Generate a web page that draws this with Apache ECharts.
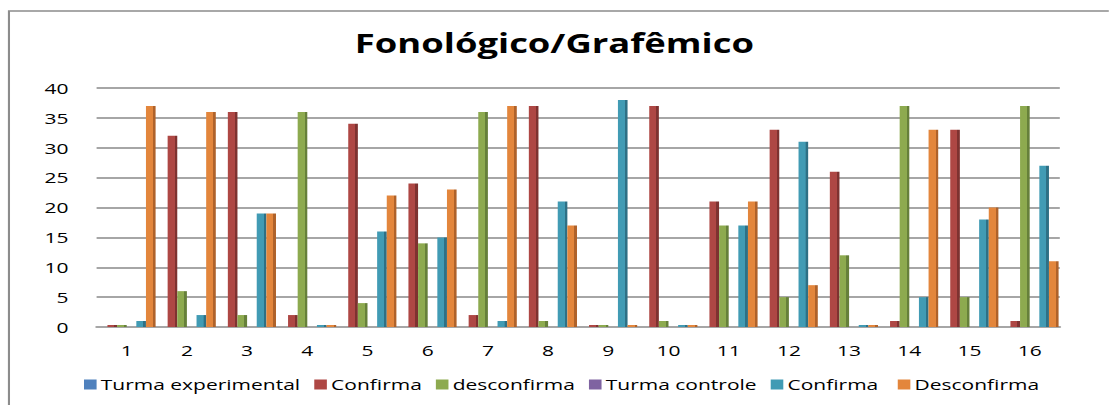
<!DOCTYPE html>
<html>
<head>
<meta charset="utf-8">
<script src="https://cdn.jsdelivr.net/npm/echarts@6/dist/echarts.min.js"></script>
<style>
  html, body { margin: 0; padding: 0; background: #fff; overflow: hidden; }
  /* the original picture is a horizontally stretched Excel chart,
     so draw it narrower and stretch it the same way */
  #chart { width: 792px; height: 405px; transform: scaleX(1.4); transform-origin: 0 0; }
</style>
</head>
<body>
<div id="chart"></div>
<script>
const categories = ['1', '2', '3', '4', '5', '6', '7', '8', '9', '10', '11', '12', '13', '14', '15', '16'];
const seriesNames = ['Turma experimental', 'Confirma', 'desconfirma', 'Turma controle', 'Confirma ', 'Desconfirma'];

const expGroup = [0, 0, 0, 0, 0, 0, 0, 0, 0, 0, 0, 0, 0, 0, 0, 0];
const expConfirma = [0, 32, 36, 2, 34, 24, 2, 37, 0, 37, 21, 33, 26, 1, 33, 1];
const expDesconfirma = [0, 6, 2, 36, 4, 14, 36, 1, 0, 1, 17, 5, 12, 37, 5, 37];
const ctrlGroup = [0, 0, 0, 0, 0, 0, 0, 0, 0, 0, 0, 0, 0, 0, 0, 0];
const ctrlConfirma = [1, 2, 19, 0, 16, 15, 1, 21, 38, 0, 17, 31, 0, 5, 18, 27];
const ctrlDesconfirma = [37, 36, 19, 0, 22, 23, 37, 17, 0, 0, 21, 7, 0, 33, 20, 11];

const yTicks = { min: 0, max: 40, interval: 5 };

// face colour + darker side colour, like the Excel 3D columns
const palette = [
  ['#4F81BD', '#3A6190'],
  ['#AE4744', '#7E3230'],
  ['#8DAA4F', '#66803A'],
  ['#7F63A1', '#5C4776'],
  ['#419BB4', '#2E7085'],
  ['#E3863C', '#AF622A'],
];

function face(c) {
  return new echarts.graphic.LinearGradient(0, 0, 1, 0, [
    { offset: 0, color: c[0] },
    { offset: 0.72, color: c[0] },
    { offset: 0.73, color: c[1] },
    { offset: 1, color: c[1] },
  ]);
}

const dataSets = [expGroup, expConfirma, expDesconfirma, ctrlGroup, ctrlConfirma, ctrlDesconfirma];

const series = dataSets.map((d, i) => ({
  name: seriesNames[i],
  type: 'bar',
  data: d,
  barGap: '0%',
  barCategoryGap: '4%',
  barMinHeight: (i === 0 || i === 3) ? 0 : 2,
  itemStyle: { color: face(palette[i]) },
}));

const chart = echarts.init(document.getElementById('chart'), null, { renderer: 'svg' });
chart.setOption({
  animation: false,
  backgroundColor: '#fff',
  color: palette.map(c => c[0]),
  title: {
    text: 'Fonológico/Grafêmico',
    left: 'center',
    top: 25,
    textStyle: { fontFamily: 'Open Sans', fontWeight: 'bold', fontSize: 26, color: '#000' },
  },
  graphic: [{
    type: 'rect',
    shape: { x: 6.4, y: 11, width: 900, height: 500 },
    style: { fill: 'none', stroke: '#8c8c8c', lineWidth: 1.5 },
    silent: true,
  }],
  legend: {
    bottom: 8,
    left: 55,
    itemWidth: 9,
    itemHeight: 10,
    itemGap: 10,
    icon: 'rect',
    textStyle: { fontFamily: 'Open Sans', fontSize: 15, color: '#000', padding: [0, 0, 0, -2] },
    data: seriesNames.map((n, i) => ({ name: n, itemStyle: { color: palette[i][0] } })),
  },
  grid: { left: 69, right: 35, top: 88, bottom: 78 },
  xAxis: {
    type: 'category',
    data: categories,
    axisLine: { lineStyle: { color: '#a6a6a6', width: 2 } },
    axisTick: { show: false },
    axisLabel: { fontFamily: 'Open Sans', fontSize: 15, color: '#000', margin: 16 },
  },
  yAxis: {
    type: 'value',
    min: yTicks.min,
    max: yTicks.max,
    interval: yTicks.interval,
    axisLine: { show: false },
    axisTick: { show: false },
    axisLabel: { fontFamily: 'Open Sans', fontSize: 15, color: '#000', margin: 20 },
    splitLine: { lineStyle: { color: '#a6a6a6', width: 2 } },
  },
  series: series,
});
</script>
</body>
</html>
